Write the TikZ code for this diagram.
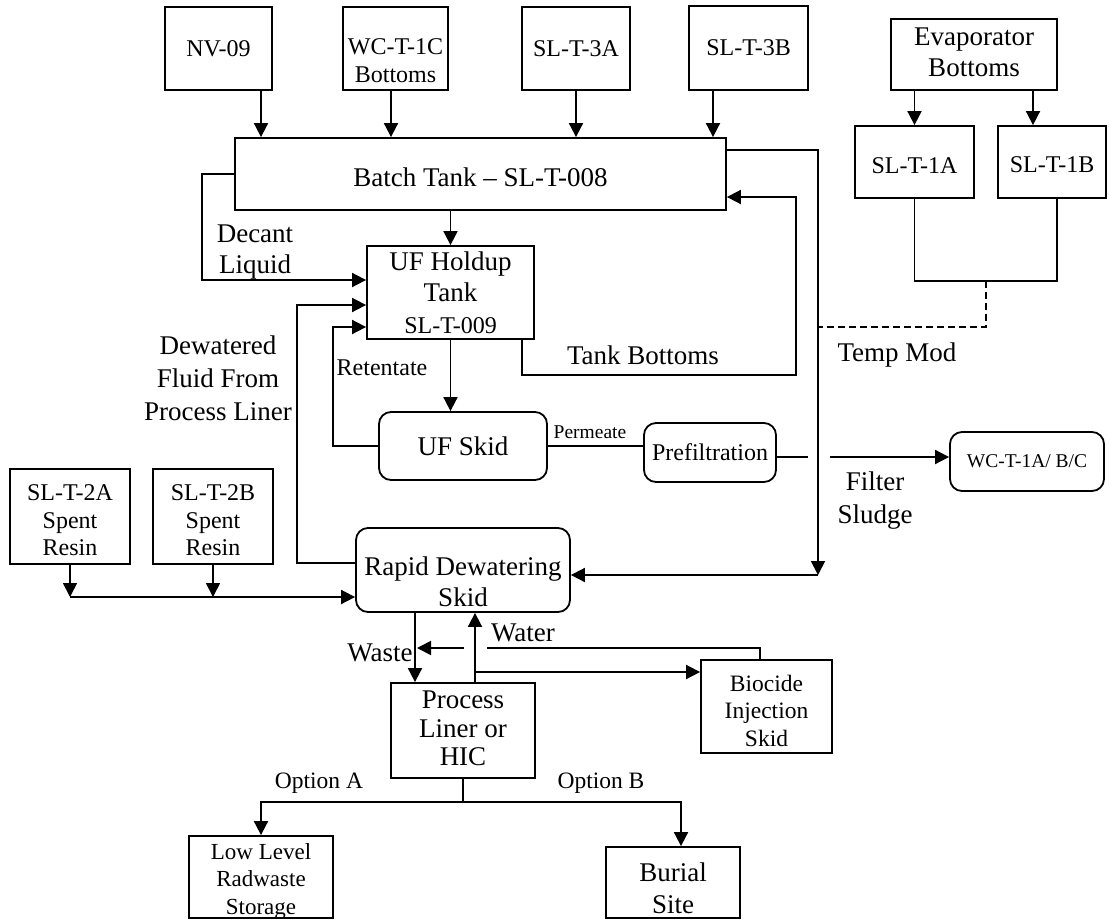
\documentclass[tikz,border=0pt]{standalone}
\usepackage{fontspec}
\setmainfont{Liberation Serif}
\usetikzlibrary{arrows.meta}
\newcommand\szA{\fontsize{27}{31.5}\selectfont}
\newcommand\szB{\fontsize{24}{27.5}\selectfont}
\newcommand\szC{\fontsize{19.5}{23}\selectfont}
\newcommand\bx[8]{%
  \node[#1,minimum width={(#5-#3)*1pt},minimum height={(#6-#4)*1pt}] (#2) at ({(#3+#5)/2},{(#4+#6)/2}) {};
  \node[align=center,inner sep=0pt,#7] (#2t) at (#2.center) {#8};}
\begin{document}
\begin{tikzpicture}[x=1pt,y=-1pt,
  box/.style={draw,line width=1.8pt,inner sep=0pt},
  rbox/.style={box,rounded corners=12pt},
  ln/.style={line width=1.8pt},
  arr/.style={ln,-{Triangle[length=14pt,width=14pt]}},
  lbl/.style={inner sep=0pt,align=center}]
\useasboundingbox (0,0) rectangle (1109,922);
\fill[white] (0,0) rectangle (1109,922);

% boxes
\bx{box}{nv}{165}{7}{272}{90}{font=\szB}{NV-09}
\bx{box}{wc}{343}{7}{448}{90}{font=\szB,yshift=-12pt}{WC-T-1C\\Bottoms}
\bx{box}{sa}{522}{7}{630}{90}{font=\szB}{SL-T-3A}
\bx{box}{sb}{689}{6}{808}{90}{font=\szB}{SL-T-3B}
\bx{box}{evap}{891}{19}{1057}{90}{font=\szA,yshift=2pt}{Evaporator\\Bottoms}
\bx{box}{sia}{855}{126}{974}{198}{font=\szB,yshift=-4pt}{SL-T-1A}
\bx{box}{sib}{998}{126}{1106}{198}{font=\szB,yshift=-3pt}{SL-T-1B}
\bx{box}{batch}{235}{138}{726}{210}{font=\szA,yshift=-3pt}{Batch Tank \textendash{} SL-T-008}
\bx{box}{uf}{367}{246}{534}{339}{font=\szA}{UF Holdup\\Tank\\{\szB SL-T-009}}
\bx{rbox}{ufskid}{379}{412}{547}{480}{font=\szA}{UF Skid}
\bx{rbox}{prefilt}{644}{423}{776}{482}{font=\szB}{Prefiltration}
\bx{rbox}{wcbox}{950}{432}{1104}{491}{font=\szC}{WC-T-1A/ B/C}
\bx{box}{ssa}{10}{469}{130}{564}{font=\szB,yshift=-4pt}{SL-T-2A\\Spent\\Resin}
\bx{box}{ssb}{153}{469}{273}{564}{font=\szB,yshift=-4pt}{SL-T-2B\\Spent\\Resin}
\bx{rbox}{rds}{356}{528}{570}{612}{font=\szA,yshift=-12pt}{Rapid Dewatering\\Skid}
\bx{box}{pl}{391}{683}{535}{778}{font=\fontsize{27}{28.5}\selectfont,yshift=2pt}{Process\\Liner or\\HIC}
\bx{box}{bio}{701}{660}{832}{753}{font=\fontsize{23.5}{27.5}\selectfont,yshift=-4pt}{Biocide\\Injection\\Skid}
\bx{box}{low}{189}{836}{333}{918}{font=\fontsize{23}{27.5}\selectfont,yshift=-4pt}{Low Level\\Radwaste\\Storage}
\bx{box}{bur}{606}{847}{740}{918}{font=\fontsize{27}{32}\selectfont,yshift=-6pt}{Burial\\Site}

% top feeders
\draw[arr] (nv.south -| 261,0) -- (batch.north -| 261,0);
\draw[arr] (wc.south -| 391,0) -- (batch.north -| 391,0);
\draw[arr] (sa.south) -- (batch.north -| sa.south);
\draw[arr] (sb.south -| 713,0) -- (batch.north -| 713,0);

% evaporator
\draw[arr] (evap.south -| sia.north) -- (sia.north);
\draw[arr] (evap.south -| 1033,0) -- (sib.north -| 1033,0);
\coordinate (jn) at (1057,281);
\coordinate (jd) at (986,281);
\draw[ln] (sia.south) |- (jn) -- (sib.south -| jn);

% batch -> UF holdup
\draw[arr] (batch.south -| uf.north) -- (uf.north);

% decant liquid
\coordinate (dc) at (202,174);
\draw[arr] (batch.west |- dc) -- (dc) |- (uf.west |- 0,280);

% dewatered fluid
\coordinate (dw) at (297,563);
\draw[arr] (rds.west |- dw) -- (dw) |- (uf.west |- 0,305);

% retentate
\coordinate (rt) at (333,446);
\draw[arr] (ufskid.west |- rt) -- (rt) |- (uf.west |- 0,327);

% UF holdup -> UF skid
\draw[arr] (uf.south) -- (ufskid.north -| uf.south);

% tank bottoms
\coordinate (tba) at (522,375);
\coordinate (tbb) at (796,375);
\draw[arr] (uf.south -| tba) -- (tba) -- (tbb) |- (batch.east |- 0,197);

% permeate
\draw[ln] (ufskid.east |- 0,446) -- (prefilt.west |- 0,446);

% prefiltration -> WC tanks
\draw[arr] (prefilt.east |- 0,457) -- (wcbox.west |- 0,457);
\fill[white] (808,449) rectangle (830,465);

% batch -> rapid dewatering (filter sludge)
\coordinate (fsa) at (818,150);
\coordinate (fsb) at (818,575);
\draw[arr] (batch.east |- fsa) -- (fsa) -- (fsb);
\draw[arr] (fsb) -- (rds.east |- fsb);

% temp mod (dashed)
\draw[ln,dash pattern=on 7pt off 4pt] (jd) |- (fsa |- 0,327);

% spent resin
\coordinate (rl) at (70,597);
\draw[arr] (ssa.south) -- (rl);
\draw[arr] (ssb.south) -- (ssb.south |- rl);
\draw[arr] (rl) -- (rds.west |- rl);

% biocide return to waste
\coordinate (bw) at (760,648);
\coordinate (bwe) at (417,648);
\draw[arr] (bio.north -| bw) -- (bw) -- (bwe);
\fill[white] (464,641) rectangle (487,655);

% waste / water
\draw[arr] (rds.south -| 415,0) -- (pl.north -| 415,0);
\draw[arr] (pl.north -| 475,0) -- (rds.south -| 475,0);
\coordinate (wj) at (475,672);
\draw[arr] (wj) -- (bio.west |- wj);

% options
\coordinate (oj) at (463,802);
\draw[ln] (pl.south -| oj) -- (oj);
\draw[arr] (oj) -| (low.north -| 261,0);
\draw[arr] (oj) -| (bur.north -| 681,0);

% labels
\node[lbl,font=\fontsize{27}{31}\selectfont] (ldecant) at (255,252) {Decant\\Liquid};
\node[lbl,font=\fontsize{27}{33}\selectfont] (ldew) at (218,378) {Dewatered\\Fluid From\\Process Liner};
\node[lbl,font=\szB] (lret) at (382,368) {Retentate};
\node[lbl,font=\szA] (ltb) at (643,355) {Tank Bottoms};
\node[lbl,font=\szC] (lperm) at (590,432) {Permeate};
\node[lbl,font=\szA] (ltemp) at (897,355) {Temp Mod};
\node[lbl,font=\fontsize{27}{33}\selectfont] (lfs) at (875,501) {Filter\\Sludge};
\node[lbl,font=\szA] (lwater) at (523,633) {Water};
\node[lbl,font=\szA] (lwaste) at (380,653) {Waste};
\node[lbl,font=\fontsize{23.5}{27}\selectfont] (lopa) at (319,783) {Option A};
\node[lbl,font=\fontsize{23.5}{27}\selectfont] (lopb) at (601,783) {Option B};
\end{tikzpicture}
\end{document}
